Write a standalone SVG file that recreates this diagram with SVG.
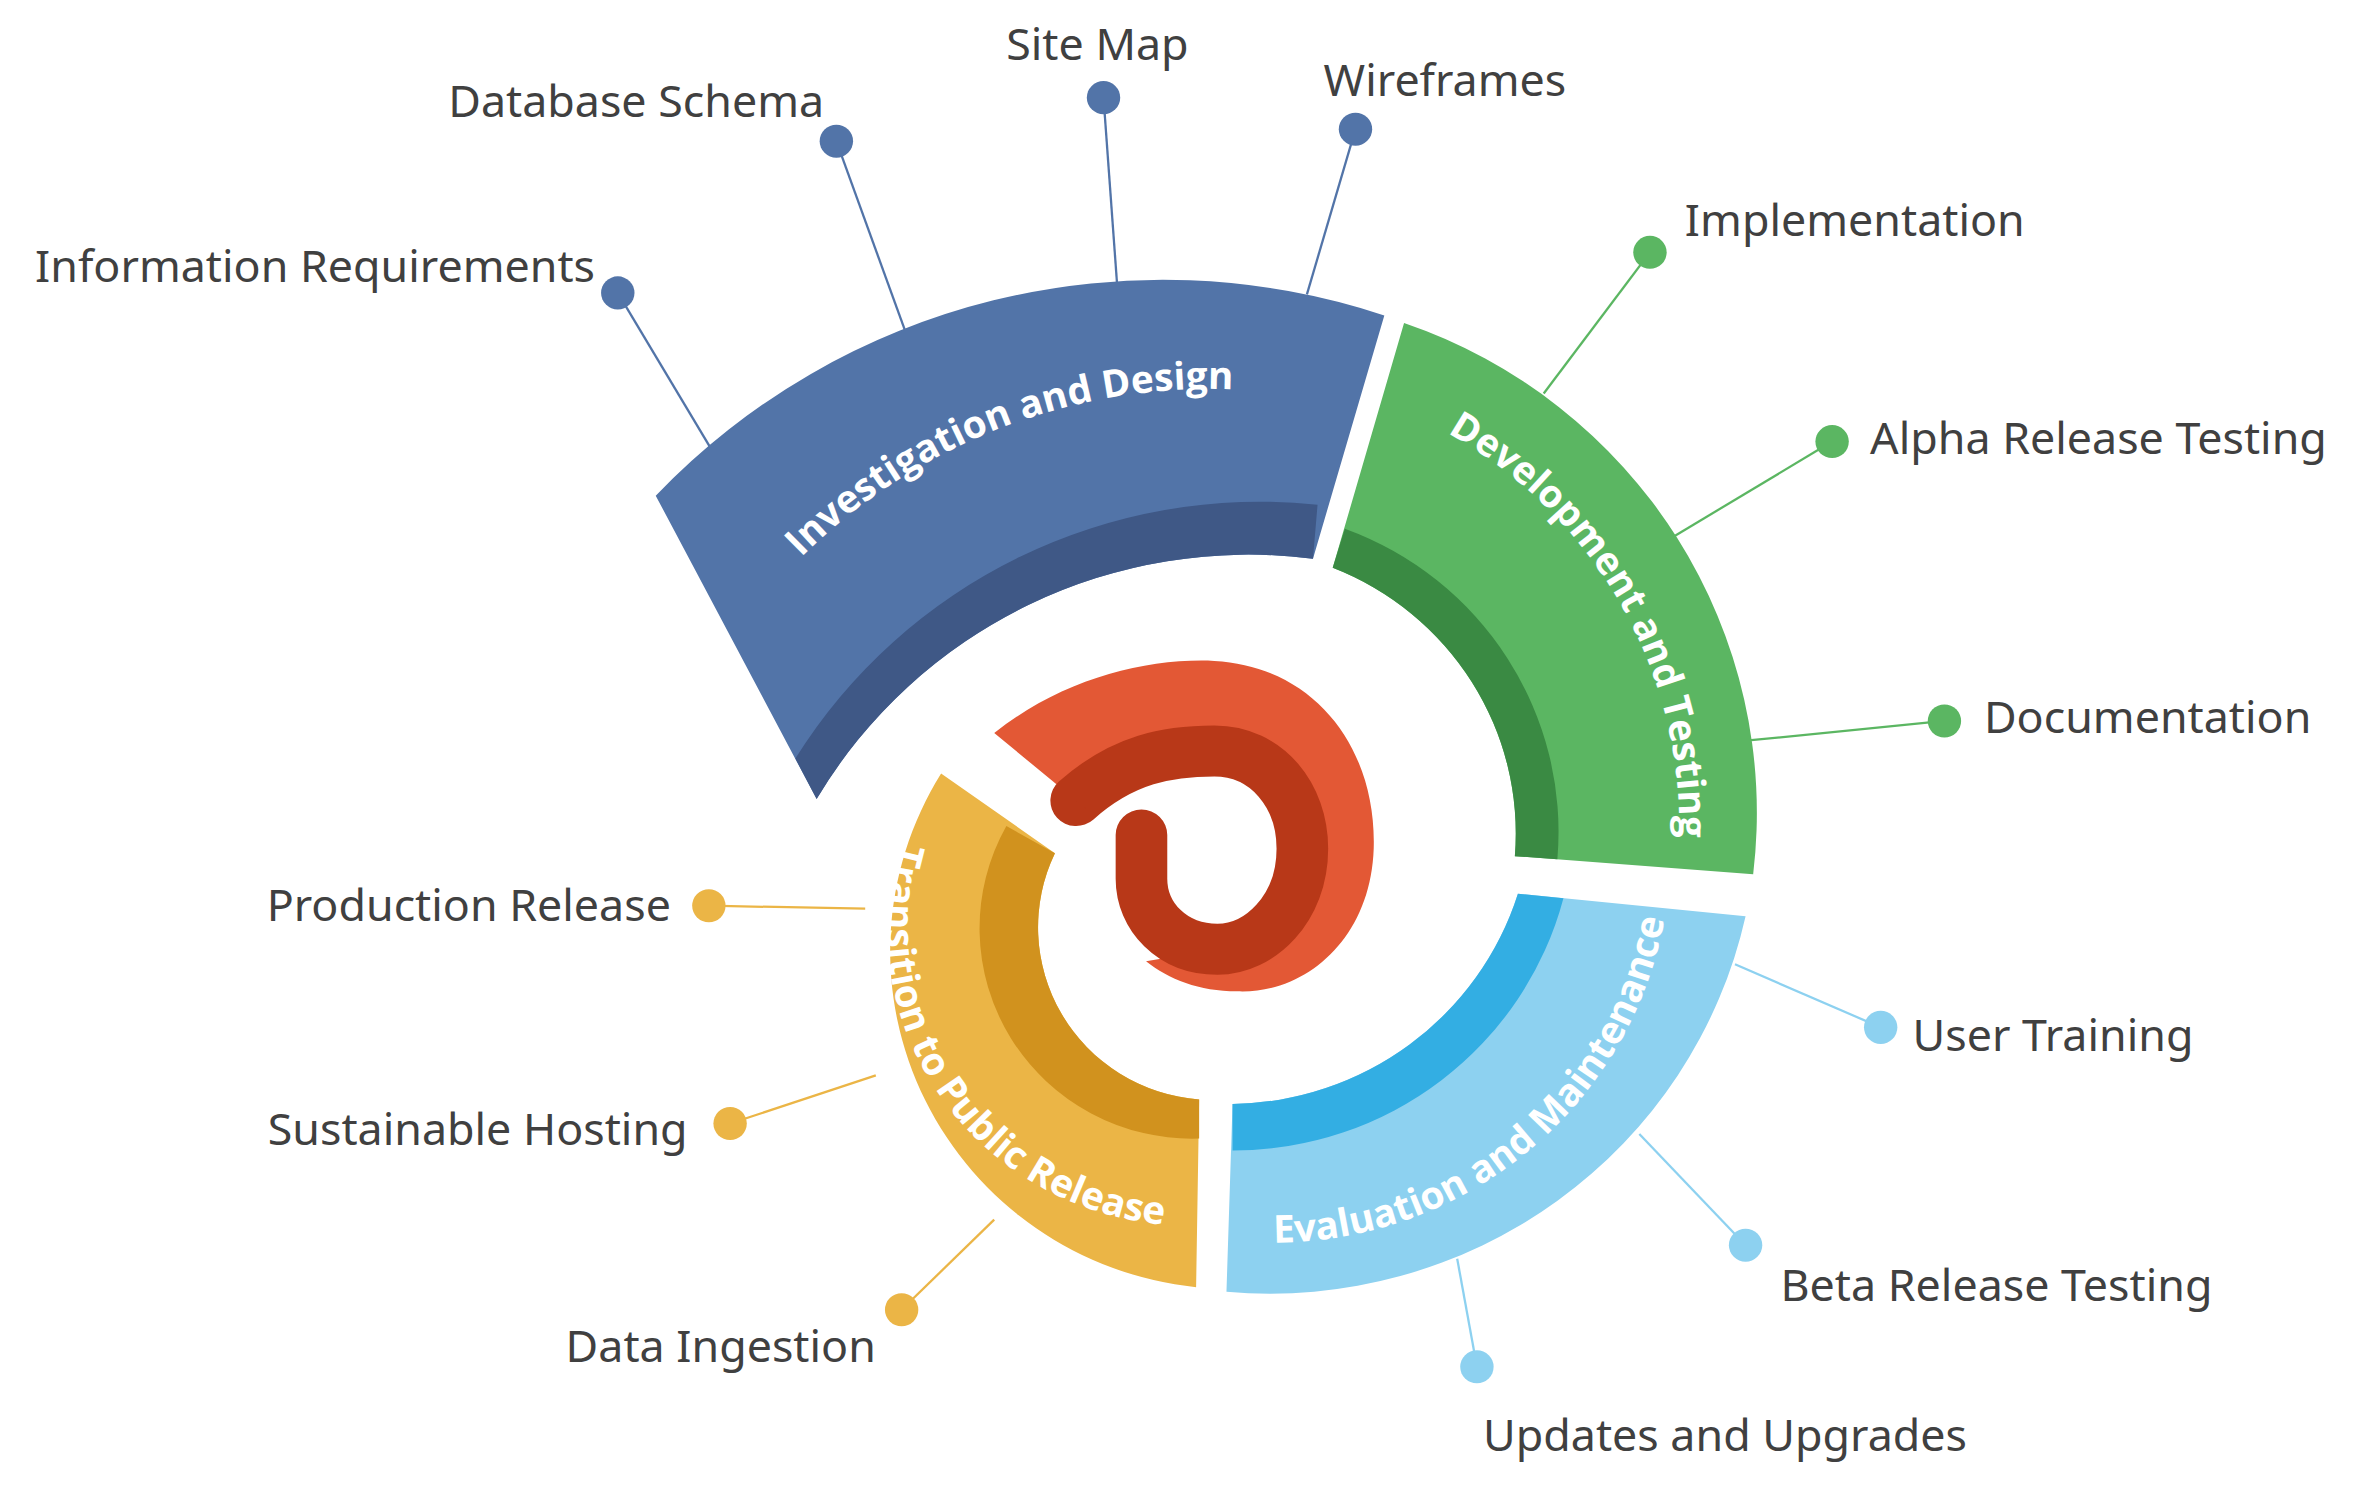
<svg xmlns="http://www.w3.org/2000/svg" width="2368" height="1487" viewBox="0 0 2368 1487">
<style>
.lbl{font-family:"Noto Sans","Open Sans",sans-serif;font-size:29.5px;fill:#404040}
.seg{font-family:"Open Sans","Noto Sans",sans-serif;font-size:25.5px;font-weight:bold;fill:#fff}
.cb{stroke:#5274A8;fill:none;stroke-width:1.5}
.cg{stroke:#5BB662;fill:none;stroke-width:1.5}
.cl{stroke:#8DD1F0;fill:none;stroke-width:1.5}
.cy{stroke:#EBB546;fill:none;stroke-width:1.5}
</style>
<defs>
<path id="pb" d="M480,430 A380,380 0 0 1 870,266"/>
<path id="pg" d="M915,270 A300,300 0 0 1 1102,600"/>
<path id="pl" d="M812,826 A262,262 0 0 0 1100,585"/>
<path id="py" d="M606,525 A200,200 0 0 0 805,815"/>
</defs>
<rect width="2368" height="1487" fill="#fff"/>
<g transform="scale(1.5179,1.502)">
<g id="connectors">
<line class="cb" x1="407" y1="195" x2="468" y2="298"/>
<line class="cb" x1="551" y1="94" x2="598" y2="225"/>
<line class="cb" x1="727" y1="65" x2="736" y2="190"/>
<line class="cb" x1="893" y1="86" x2="861" y2="196"/>
<line class="cg" x1="1087" y1="168" x2="1017" y2="262"/>
<line class="cg" x1="1207" y1="294" x2="1103" y2="357"/>
<line class="cg" x1="1281" y1="480" x2="1152" y2="493"/>
<line class="cl" x1="1239" y1="684" x2="1143" y2="642"/>
<line class="cl" x1="1150" y1="829" x2="1080" y2="755"/>
<line class="cl" x1="973" y1="910" x2="960" y2="838"/>
<line class="cy" x1="467" y1="603" x2="570" y2="605"/>
<line class="cy" x1="481" y1="748" x2="577" y2="716"/>
<line class="cy" x1="594" y1="872" x2="655" y2="812"/>
</g>
<g id="investigation">
<path d="M432,330 A460,460 0 0 1 912,210 L865,372 A330,330 0 0 0 538,532 Z" fill="#5274A8"/>
<path d="M868,336 A360,360 0 0 0 524,505 L538,532 A330,330 0 0 1 865,372 Z" fill="#3F5886"/>
<text class="seg"><textPath href="#pb" startOffset="52%" text-anchor="middle">Investigation and Design</textPath></text>
</g>
<g id="development">
<path d="M925,215 A345,345 0 0 1 1155,582 L998,570 A190,190 0 0 0 878,378 Z" fill="#5BB662"/>
<path d="M886,352 A215,215 0 0 1 1026,572 L998,570 A190,190 0 0 0 878,378 Z" fill="#3A8A43"/>
<text class="seg"><textPath href="#pg" startOffset="50%" text-anchor="middle">Development and Testing</textPath></text>
</g>
<g id="evaluation">
<path d="M1000,595 L1150,610 A321,321 0 0 1 808,860 L812,735 A200,200 0 0 0 1000,595 Z" fill="#8DD1F0"/>
<path d="M1000,595 L1030,598 A225,225 0 0 1 812,766 L812,735 A200,200 0 0 0 1000,595 Z" fill="#33AEE3"/>
<text class="seg"><textPath href="#pl" startOffset="50%" text-anchor="middle">Evaluation and Maintenance</textPath></text>
</g>
<g id="transition">
<path d="M620,515 L695,568 A115,115 0 0 0 790,732 L788,857 A225,225 0 0 1 620,515 Z" fill="#EBB546"/>
<path d="M663,550 L695,568 A115,115 0 0 0 790,732 L790,758 A140,140 0 0 1 663,550 Z" fill="#D1921E"/>
<text class="seg"><textPath href="#py" startOffset="50%" text-anchor="middle">Transition to Public Release</textPath></text>
</g>
<g id="spiral">
<path d="M655,488 C700,452 755,438 800,440 C868,444 907,500 905,565 C903,625 860,662 815,660 C790,660 770,652 755,640 L802,632 C830,632 858,605 858,565 C858,530 835,500 800,500 C770,500 740,505 709,533 Z" fill="#E35835"/>
<path d="M709,533 C740,505 770,500 800,500 C835,500 858,530 858,565 C858,605 830,632 802,632 C772,632 752,610 752,585 L752,556" fill="none" stroke="#B83818" stroke-width="34" stroke-linecap="round"/>
<path d="M709,533 L696,522 L722,544 Z" fill="#B83818"/>
</g>
<g id="labels">
<circle cx="407" cy="195" r="11" fill="#5274A8"/><text class="lbl" x="392" y="188" text-anchor="end">Information Requirements</text>
<circle cx="551" cy="94" r="11" fill="#5274A8"/><text class="lbl" x="543" y="78" text-anchor="end">Database Schema</text>
<circle cx="727" cy="65" r="11" fill="#5274A8"/><text class="lbl" x="723" y="40" text-anchor="middle">Site Map</text>
<circle cx="893" cy="86" r="11" fill="#5274A8"/><text class="lbl" x="872" y="64">Wireframes</text>
<circle cx="1087" cy="168" r="11" fill="#5BB662"/><text class="lbl" x="1110" y="157">Implementation</text>
<circle cx="1207" cy="294" r="11" fill="#5BB662"/><text class="lbl" x="1232" y="302">Alpha Release Testing</text>
<circle cx="1281" cy="480" r="11" fill="#5BB662"/><text class="lbl" x="1307" y="488">Documentation</text>
<circle cx="1239" cy="684" r="11" fill="#8DD1F0"/><text class="lbl" x="1260" y="700">User Training</text>
<circle cx="1150" cy="829" r="11" fill="#8DD1F0"/><text class="lbl" x="1173" y="866">Beta Release Testing</text>
<circle cx="973" cy="910" r="11" fill="#8DD1F0"/><text class="lbl" x="977" y="966">Updates and Upgrades</text>
<circle cx="467" cy="603" r="11" fill="#EBB546"/><text class="lbl" x="442" y="613" text-anchor="end">Production Release</text>
<circle cx="481" cy="748" r="11" fill="#EBB546"/><text class="lbl" x="453" y="762" text-anchor="end">Sustainable Hosting</text>
<circle cx="594" cy="872" r="11" fill="#EBB546"/><text class="lbl" x="577" y="907" text-anchor="end">Data Ingestion</text>
</g>
</g>
</svg>
